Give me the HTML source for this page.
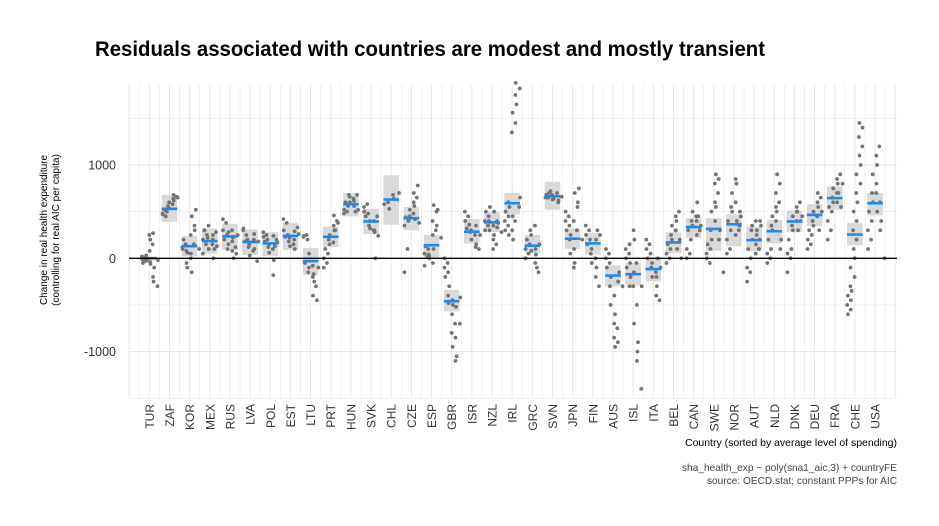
<!DOCTYPE html>
<html><head><meta charset="utf-8"><style>
html,body{margin:0;padding:0;background:#fff;}
svg{display:block;font-family:"Liberation Sans",sans-serif;}
</style></head><body>
<svg id="chart" width="939" height="526" viewBox="0 0 939 526">
<text x="95" y="56" font-size="21" font-weight="bold" fill="#000" textLength="670" lengthAdjust="spacingAndGlyphs">Residuals associated with countries are modest and mostly transient</text>
<g id="grid"></g>
<g id="boxes"></g>
<g id="pts"></g>
<g id="means"></g>
<g id="yticks"></g>
<g id="xticks"></g>
<text transform="translate(47,230) rotate(-90)" text-anchor="middle" font-size="10" fill="#000"><tspan x="0" dy="0">Change in real health expenditure</tspan><tspan x="0" dy="12">(controlling for real AIC per capita)</tspan></text>
<text x="897" y="446" text-anchor="end" font-size="10.5" fill="#000" textLength="212" lengthAdjust="spacingAndGlyphs">Country (sorted by average level of spending)</text>
<text x="897" y="471" text-anchor="end" font-size="10.5" fill="#444" textLength="215" lengthAdjust="spacingAndGlyphs">sha_health_exp ~ poly(sna1_aic,3) + countryFE</text>
<text x="897" y="484" text-anchor="end" font-size="10.5" fill="#444" textLength="190" lengthAdjust="spacingAndGlyphs">source: OECD.stat; constant PPPs for AIC</text>
</svg>
<script>
const countries=["TUR","ZAF","KOR","MEX","RUS","LVA","POL","EST","LTU","PRT","HUN","SVK","CHL","CZE","ESP","GBR","ISR","NZL","IRL","GRC","SVN","JPN","FIN","AUS","ISL","ITA","BEL","CAN","SWE","NOR","AUT","NLD","DNK","DEU","FRA","CHE","USA"];
const means=[0,530,130,185,235,175,160,240,-30,230,580,395,630,430,140,-460,285,385,590,135,665,210,160,-185,-170,-115,170,335,315,365,195,290,395,465,645,255,590];
const boxLo=[-20,390,20,50,90,35,25,90,-180,120,450,260,360,300,5,-570,160,280,470,55,520,100,40,-300,-290,-245,55,220,80,130,75,160,280,345,520,140,460];
const boxHi=[20,680,240,320,370,310,280,380,110,340,700,530,890,550,250,-340,420,500,700,250,820,320,270,-75,-50,0,280,430,430,470,340,410,510,580,770,380,700];
const yTickVals=[1000,0,-1000];
const points=[
[-10,-30,20,0,-50,-20,10,-40,30,-60,80,150,250,270,200,-100,-200,-300,-250,-20],
[480,450,470,500,520,540,560,580,600,620,640,660,680,650],
[100,150,120,80,200,60,-50,0,-100,-150,50,150,250,350,450,520,300,100],
[50,150,200,250,300,350,220,150,100,0,200,280,250,130,100],
[420,380,300,250,200,150,100,300,280,220,180,120,80,50,0,250],
[300,250,320,200,180,150,120,80,30,100,200,-30,260,180],
[280,250,230,200,180,150,120,100,60,-20,-180,200,240,170,130],
[420,380,300,250,230,220,180,150,130,100,200,330,290,260],
[230,250,240,200,-50,-100,-150,-80,50,-170,-200,-300,-400,-450,-250,-100],
[-100,-50,0,50,100,150,200,170,250,300,350,400,460,380,300],
[480,500,520,560,600,660,680,640,600,580,620,680,560,520,500],
[550,580,500,480,450,400,350,300,320,280,400,450,300,240,0],
[580,530,600,640,680,700],
[-150,100,350,400,440,450,420,480,520,560,600,650,700,780,420,380],
[-80,20,50,100,130,0,40,-50,30,100,250,300,400,500,570,520,350,220],
[0,-50,-100,-150,-200,-300,-400,-450,-480,-500,-600,-700,-800,-850,-950,-1050,-1100,-700,-520,-420],
[500,450,400,360,320,300,280,250,200,150,120,100,350,250],
[300,350,400,450,500,550,400,350,300,250,200,150,100,400,500,380,330,280],
[300,350,400,450,500,550,600,450,250,200,300,400,1350,1450,1560,1650,1750,1820,1880,650,550],
[0,50,100,150,200,250,300,350,80,40,-50,-150,100,150,-100],
[650,700,680,720,650,630,680,700,640,620,600,660],
[500,450,400,350,300,250,200,100,50,-50,-100,300,400,550,700,750,600,200],
[350,300,250,200,150,100,50,0,-50,-100,-200,-300,200,250,300],
[100,50,0,-50,-100,-200,-300,-400,-500,-600,-700,-750,-850,-900,-950,-150,-250,-300],
[0,50,100,150,-100,-200,-300,-150,-50,200,300,-50,-300,-500,-700,-900,-1100,-1400,-1000,-300],
[200,150,100,50,0,-50,-100,-150,-200,-300,-400,-450,-200,-100,0],
[-50,0,50,100,150,200,250,300,350,400,450,500,300,200,100,0],
[0,50,100,200,300,350,400,450,500,600,400,300,250,350,450],
[0,-50,50,100,150,200,300,400,500,550,600,700,800,850,900,300,200,-150],
[50,100,200,300,400,500,550,600,700,800,850,300,250,350,400,450,500],
[-250,-150,-100,0,100,200,300,400,350,250,150,100,50,200,300,350,400],
[-50,0,50,100,200,300,350,400,450,500,550,600,700,800,900,200,100],
[-150,0,50,100,200,300,350,400,450,500,550,600,500,400,300,450],
[100,150,200,250,300,350,400,450,500,550,600,650,700,500,300],
[200,300,400,500,550,600,650,700,750,800,850,900,600,550,700,800],
[-600,-550,-500,-450,-400,-350,-300,-200,-100,0,100,200,300,400,500,600,700,800,900,1000,1100,1200,1300,1400,1450],
[100,200,300,400,500,600,700,800,900,1000,1100,1200,700,600,500,400,300,0]
];
const NS="http://www.w3.org/2000/svg";
const X0=149.3, DX=20.16;
const x=i=>X0+DX*i;
const y=v=>258.3-v*0.0933;
const L=129, R=897, T=85, B=398;
function mk(tag,attrs,parent){const e=document.createElementNS(NS,tag);for(const k in attrs)e.setAttribute(k,attrs[k]);parent.appendChild(e);return e;}
const grid=document.getElementById('grid');
for(let v=-1500;v<=1500;v+=500){const yy=y(v);if(yy<T)continue;
 const g=mk('line',{x1:L,x2:R,y1:yy,y2:yy,stroke:'#e6e6e6','stroke-width':v%1000===0?1:0.6},grid);
 
 }
for(let k=-2;k<=74;k++){const xx=x(k/2);if(xx<L-1||xx>R+1)continue;
 const g=mk('line',{x1:xx,x2:xx,y1:T,y2:B,stroke:'#e6e6e6','stroke-width':k%2===0?1:0.6},grid);
 
 }
const boxes=document.getElementById('boxes'),pts=document.getElementById('pts'),mg=document.getElementById('means'),xt=document.getElementById('xticks');
const jit=[0,2.2,-1.8,1.2,-2.4,0.8,-1,2.6,-2,1.6];
countries.forEach((c,i)=>{
 const cx=x(i);
 const b=mk('rect',{x:cx-7.8,width:15.6,y:y(boxHi[i]),height:y(boxLo[i])-y(boxHi[i]),fill:'#d9d9d9'},boxes);
 
 
 const p=points[i],n=p.length;
 p.forEach((v,j)=>{
  const off=(n>1?(-7+14*j/(n-1)):0)+jit[j%jit.length];
  const d=mk('circle',{cx:cx+off,cy:y(v),r:1.9,fill:'#747474'},pts);
  
  
 });
 const m=mk('line',{x1:cx-7.8,x2:cx+7.8,y1:y(means[i]),y2:y(means[i]),stroke:'#1e88f0','stroke-width':2.6},mg);
 
 
 const t=mk('text',{transform:`translate(${cx+4.5},404) rotate(-90)`,'text-anchor':'end','font-size':12,fill:'#333'},xt);
 t.textContent=c;
 
 
});
const zero=mk('line',{x1:L,x2:R,y1:y(0),y2:y(0),stroke:'#000','stroke-width':1.4},mg);


const yt=document.getElementById('yticks');
yTickVals.forEach(v=>{
 const t=mk('text',{x:116,y:y(v)+4.5,'text-anchor':'end','font-size':12.5,fill:'#333'},yt);
 t.textContent=v;
 
 
});
</script>
</body></html>
